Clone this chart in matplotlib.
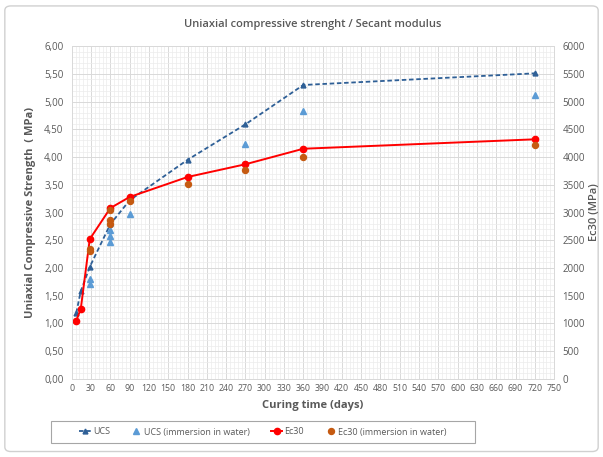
import matplotlib
matplotlib.use("Agg")
import matplotlib.pyplot as plt
import matplotlib.ticker as ticker
from matplotlib.patches import FancyBboxPatch, Rectangle

# data
days = [7, 14, 28, 60, 90, 180, 270, 360, 720]
ucs = [1.19, 1.58, 2.02, 2.79, 3.22, 3.95, 4.59, 5.30, 5.51]
ec30 = [1050, 1260, 2520, 3080, 3280, 3640, 3870, 4150, 4320]

ucs_water_days = [28, 28, 60, 60, 60, 90, 270, 360, 720]
ucs_water = [1.80, 1.71, 2.68, 2.58, 2.46, 2.97, 4.23, 4.83, 5.12]

ec30_water_days = [28, 28, 60, 60, 60, 90, 180, 270, 360, 720]
ec30_water = [2340, 2310, 3040, 2860, 2800, 3210, 3510, 3760, 4000, 4220]

text_col = "#595959"
plt.rcParams['font.family'] = ['Open Sans', 'DejaVu Sans']

fig = plt.figure(figsize=(6.03, 4.57), dpi=100)
fig.patches.append(FancyBboxPatch((0.008, 0.012), 0.984, 0.975, boxstyle="round,pad=0,rounding_size=0.01",
                                  transform=fig.transFigure, fc="white", ec="#d0d0d0", lw=1, zorder=-1))
ax = fig.add_axes([0.119, 0.171, 0.800, 0.728])
ax2 = ax.twinx()

ax.set_xlim(0, 750)
ax.set_ylim(0, 6)
ax2.set_ylim(0, 6000)

ax.xaxis.set_major_locator(ticker.MultipleLocator(30))
ax.xaxis.set_minor_locator(ticker.MultipleLocator(6))
ax.yaxis.set_major_locator(ticker.MultipleLocator(0.5))
ax.yaxis.set_minor_locator(ticker.MultipleLocator(0.1))
ax.yaxis.set_major_formatter(ticker.FuncFormatter(lambda v, p: f"{v:.2f}".replace(".", ",")))
ax2.yaxis.set_major_locator(ticker.MultipleLocator(500))

ax.grid(True, which='major', color="#d9d9d9", lw=0.7)
ax.grid(True, which='minor', color="#ececec", lw=0.5)
ax.set_axisbelow(True)

for a in (ax, ax2):
    for s in a.spines.values():
        s.set_color("#d9d9d9")
        s.set_linewidth(0.7)
    a.tick_params(which='both', length=0, colors=text_col, labelsize=7)
ax.tick_params(axis='x', labelsize=6.3, pad=4)
ax.tick_params(axis='y', pad=6)
ax2.tick_params(axis='y', pad=6)

l1, = ax.plot(days, ucs, ls='--', dashes=(2.5, 1.5), color="#2e5f96", lw=1.3, marker='^', ms=3.5,
              label='UCS')
l2, = ax.plot(ucs_water_days, ucs_water, ls='none', color="#5b9bd5", marker='^', ms=4.5,
              label='UCS (immersion in water)')
l3, = ax2.plot(days, ec30, color="#ff0000", lw=1.4, marker='o', ms=4.5, label='Ec30')
l4, = ax2.plot(ec30_water_days, ec30_water, ls='none', color="#c55a11", marker='o', ms=4.3,
               label='Ec30 (immersion in water)')

ax.set_title("Uniaxial compressive strenght / Secant modulus", color=text_col,
             fontsize=8, fontweight='semibold', pad=14)
ax.set_xlabel("Curing time (days)", color=text_col, fontsize=8, fontweight='bold', labelpad=5)
ax.set_ylabel("Uniaxial Compressive Strength  ( MPa)", color=text_col, fontsize=8,
              fontweight='bold', labelpad=6)
ax2.set_ylabel("Ec30 (MPa)", color=text_col, fontsize=8, fontweight='semibold', labelpad=3)

# legend frame drawn separately so the box can be wider than its entries
fig.patches.append(Rectangle((51 / 603, 1 - 443 / 457), 424 / 603, 22 / 457, transform=fig.transFigure,
                             fc="white", ec="#a6a6a6", lw=0.8))
leg = fig.legend(handles=[l1, l2, l3, l4], loc='center', bbox_to_anchor=(263 / 603, 1 - 432 / 457), ncol=4,
                 fontsize=6.5, frameon=False, handlelength=1.3, handletextpad=0.2,
                 columnspacing=2.3, borderaxespad=0)
for t in leg.get_texts():
    t.set_color(text_col)

fig.savefig("out.png", dpi=100)
